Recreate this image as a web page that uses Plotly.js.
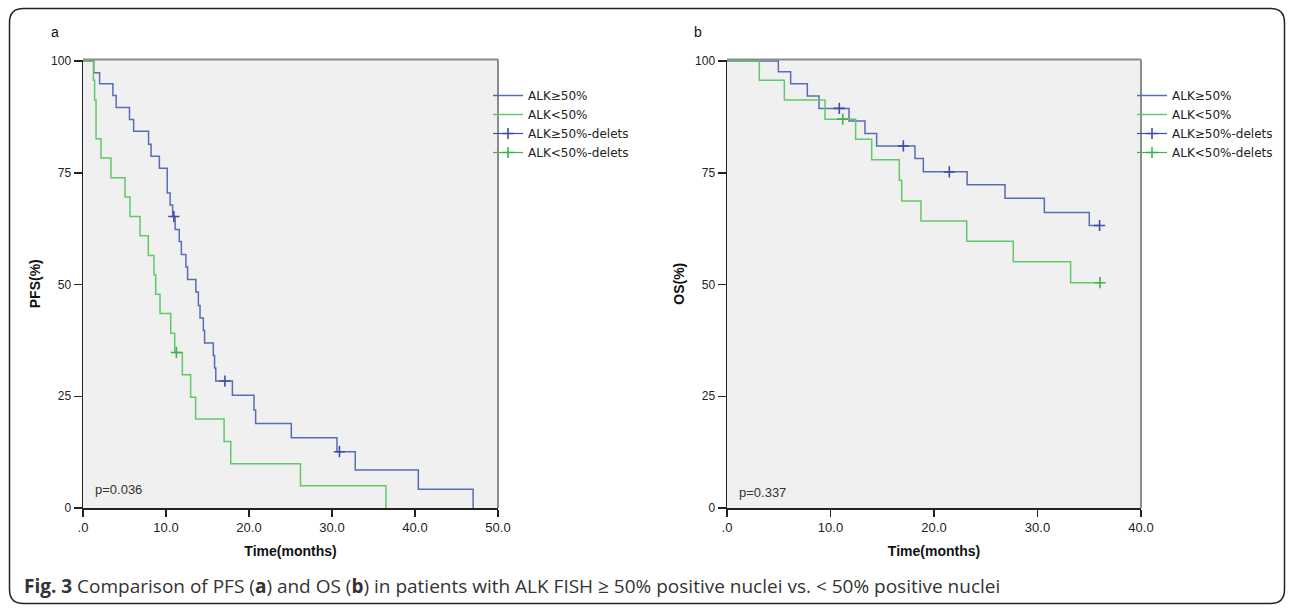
<!DOCTYPE html>
<html>
<head>
<meta charset="utf-8">
<script src="https://cdn.plot.ly/plotly-3.0.1.min.js"></script>
<style>
html,body{margin:0;padding:0;background:#fff;}
#chart{width:1292px;height:611px;}
</style>
</head>
<body>
<div id="chart"></div>
<script>
// ---------- data ----------
const seriesNames = ["ALK≥50%", "ALK<50%", "ALK≥50%-delets", "ALK<50%-delets"];

// Panel a: PFS (%) Kaplan-Meier steps (time in months, survival %)
const pfsHighTime = [0, 1.3, 2.0, 3.6, 4.0, 5.6, 6.1, 7.9, 8.2, 9.2, 10.15, 10.5, 10.8, 11.1, 11.6, 11.85, 12.4, 12.6, 13.6, 13.9, 14.1, 14.5, 14.65, 15.7, 15.85, 16.0, 18.0, 20.6, 20.8, 25.1, 30.6, 32.8, 40.4, 47.0];
const pfsHighSurv = [100, 97.4, 94.9, 92.3, 89.6, 86.9, 84.3, 81.4, 78.7, 76.0, 70.5, 67.8, 65.2, 62.3, 59.6, 56.7, 53.9, 51.1, 48.3, 45.3, 42.5, 39.7, 36.9, 34.1, 31.3, 28.4, 25.2, 21.9, 18.9, 15.7, 12.6, 8.5, 4.2, 0];
const pfsLowTime = [0, 1.25, 1.4, 1.57, 2.17, 3.37, 5.06, 5.66, 6.87, 7.87, 8.55, 8.76, 9.28, 10.57, 11.05, 11.97, 12.97, 13.57, 17.0, 17.8, 26.2, 36.5];
const pfsLowSurv = [100, 95.7, 91.3, 82.6, 78.3, 73.9, 69.6, 65.2, 60.9, 56.5, 52.2, 47.8, 43.5, 39.1, 34.8, 29.8, 24.8, 19.9, 14.9, 9.9, 5.0, 0];
const pfsHighCensTime = [10.95, 17.1, 30.9];
const pfsHighCensSurv = [65.2, 28.4, 12.6];
const pfsLowCensTime = [11.25];
const pfsLowCensSurv = [34.8];

// Panel b: OS (%)
const osHighTime = [0, 4.96, 6.15, 7.76, 8.89, 11.79, 13.33, 14.46, 18.16, 18.97, 23.2, 26.86, 30.66, 35.0, 36.0];
const osHighSurv = [100, 97.6, 94.9, 92.2, 89.4, 86.6, 83.8, 81.0, 78.2, 75.2, 72.3, 69.3, 66.1, 63.2, 63.2];
const osLowTime = [0, 3.12, 5.54, 9.47, 12.43, 13.98, 16.65, 16.88, 18.74, 23.16, 27.66, 33.2, 36.04];
const osLowSurv = [100, 95.7, 91.3, 87.0, 82.5, 77.9, 73.3, 68.7, 64.2, 59.7, 55.1, 50.4, 50.4];
const osHighCensTime = [10.85, 17.04, 21.48, 36.0];
const osHighCensSurv = [89.4, 81.0, 75.2, 63.2];
const osLowCensTime = [11.18, 36.04];
const osLowCensSurv = [87.0, 50.4];

// axes
const pfsXTickVals = [0, 10, 20, 30, 40, 50];
const pfsXTickText = [".0", "10.0", "20.0", "30.0", "40.0", "50.0"];
const osXTickVals = [0, 10, 20, 30, 40];
const osXTickText = [".0", "10.0", "20.0", "30.0", "40.0"];
const yTickVals = [0, 25, 50, 75, 100];
const yTickText = ["0", "25", "50", "75", "100"];
const pValues = ["p=0.036", "p=0.337"];
const panelLabels = ["a", "b"];
const caption = "<b>Fig. 3</b> Comparison of PFS (<b>a</b>) and OS (<b>b</b>) in patients with ALK FISH ≥ 50% positive nuclei vs. < 50% positive nuclei";

// ---------- helpers ----------
const BLUE = "#5a6cb8";
const GREEN = "#62c868";
const BLUE_C = "#3c4ea6";
const GREEN_C = "#3fb24a";

function withGaps(arr) {
  const out = [];
  arr.forEach((v, i) => { if (i) out.push(null); out.push(v); });
  return out;
}
function stepTrace(x, y, name, color, xa, ya, lg) {
  return {x: x, y: y, name: name, type: "scatter", mode: "lines",
    line: {shape: "hv", color: color, width: 1.5},
    xaxis: xa, yaxis: ya, legend: lg, hoverinfo: "skip"};
}
function censTrace(x, y, name, color, xa, ya, lg) {
  return {x: withGaps(x), y: withGaps(y), name: name, type: "scatter", mode: "lines+markers",
    connectgaps: false,
    line: {color: color, width: 1.2},
    marker: {symbol: "cross-thin", size: 8, color: color, line: {color: color, width: 1.6}},
    xaxis: xa, yaxis: ya, legend: lg, hoverinfo: "skip"};
}

const data = [
  stepTrace(pfsHighTime, pfsHighSurv, seriesNames[0], BLUE, "x", "y", "legend"),
  stepTrace(pfsLowTime, pfsLowSurv, seriesNames[1], GREEN, "x", "y", "legend"),
  censTrace(pfsHighCensTime, pfsHighCensSurv, seriesNames[2], BLUE_C, "x", "y", "legend"),
  censTrace(pfsLowCensTime, pfsLowCensSurv, seriesNames[3], GREEN_C, "x", "y", "legend"),
  stepTrace(osHighTime, osHighSurv, seriesNames[0], BLUE, "x2", "y2", "legend2"),
  stepTrace(osLowTime, osLowSurv, seriesNames[1], GREEN, "x2", "y2", "legend2"),
  censTrace(osHighCensTime, osHighCensSurv, seriesNames[2], BLUE_C, "x2", "y2", "legend2"),
  censTrace(osLowCensTime, osLowCensSurv, seriesNames[3], GREEN_C, "x2", "y2", "legend2")
];

const W = 1292, H = 611;
const px = v => v / W;
const py = v => 1 - v / H;
const xTickFont = {family: "Liberation Sans, Arial, sans-serif", size: 13, color: "#222"};
const yTickFont = {family: "Liberation Sans, Arial, sans-serif", size: 12, color: "#222"};
const titleFont = {family: "Liberation Sans, Arial, sans-serif", size: 14, color: "#111"};

function xAxis(dom, range, tv, tt, anchor) {
  return {domain: dom, range: range, anchor: anchor, tickvals: tv, ticktext: tt,
    ticks: "outside", ticklen: 7, tickwidth: 1.5, tickcolor: "#222",
    showline: true, linecolor: "#222", linewidth: 1.5, showgrid: false, zeroline: false,
    tickfont: xTickFont, fixedrange: true,
    title: {text: "<b>Time(months)</b>", font: titleFont, standoff: 12}};
}
function yAxis(title, anchor) {
  return {domain: [py(508), py(59.5)], range: [0, 100.34], anchor: anchor,
    tickvals: yTickVals, ticktext: yTickText,
    ticks: "outside", ticklen: 8, tickwidth: 1.5, tickcolor: "#222",
    showline: true, linecolor: "#222", linewidth: 1.5, showgrid: false, zeroline: false,
    tickfont: yTickFont, fixedrange: true,
    title: {text: "<b>" + title + "</b>", font: titleFont, standoff: 7}};
}

function roundRect(x0, y0, x1, y1, r) {
  const X = v => px(v), Y = v => py(v);
  return "M" + X(x0 + r) + "," + Y(y0) +
    " L" + X(x1 - r) + "," + Y(y0) +
    " Q" + X(x1) + "," + Y(y0) + " " + X(x1) + "," + Y(y0 + r) +
    " L" + X(x1) + "," + Y(y1 - r) +
    " Q" + X(x1) + "," + Y(y1) + " " + X(x1 - r) + "," + Y(y1) +
    " L" + X(x0 + r) + "," + Y(y1) +
    " Q" + X(x0) + "," + Y(y1) + " " + X(x0) + "," + Y(y1 - r) +
    " L" + X(x0) + "," + Y(y0 + r) +
    " Q" + X(x0) + "," + Y(y0) + " " + X(x0 + r) + "," + Y(y0) + " Z";
}

const frameLines = [];
[["x", "y"], ["x2", "y2"]].forEach(([xa, ya]) => {
  frameLines.push({type: "line", xref: xa + " domain", yref: ya + " domain", x0: 0, x1: 1, y0: 1, y1: 1,
    line: {color: "#8c8c8c", width: 2}});
  frameLines.push({type: "line", xref: xa + " domain", yref: ya + " domain", x0: 1, x1: 1, y0: 0, y1: 1,
    line: {color: "#8c8c8c", width: 2}});
});

const legendCommon = {xanchor: "left", yanchor: "top", bgcolor: "rgba(0,0,0,0)", borderwidth: 0,
  font: {family: "DejaVu Sans, sans-serif", size: 12, color: "#222"}, itemwidth: 30, tracegroupgap: 0};

const annFont = {family: "Liberation Sans, Arial, sans-serif", size: 14, color: "#111"};
const pFont = {family: "Liberation Sans, Arial, sans-serif", size: 13, color: "#333"};

const layout = {
  width: W, height: H,
  margin: {l: 0, r: 0, t: 0, b: 0},
  paper_bgcolor: "#ffffff",
  plot_bgcolor: "#f0f0f0",
  showlegend: true,
  xaxis: xAxis([px(83), px(498)], [0, 50], pfsXTickVals, pfsXTickText, "y"),
  yaxis: yAxis("PFS(%)", "x"),
  xaxis2: xAxis([px(727), px(1141)], [0, 40], osXTickVals, osXTickText, "y2"),
  yaxis2: yAxis("OS(%)", "x2"),
  legend: Object.assign({x: px(488), y: py(81)}, legendCommon),
  legend2: Object.assign({x: px(1132), y: py(81)}, legendCommon),
  shapes: frameLines.concat([
    {type: "path", xref: "paper", yref: "paper", path: roundRect(9.5, 8.5, 1284.5, 603.5, 14),
      line: {color: "#222", width: 1.5}, fillcolor: "rgba(0,0,0,0)"}
  ]),
  annotations: [
    {text: panelLabels[0], xref: "paper", yref: "paper", x: px(55), y: py(32), xanchor: "center", yanchor: "middle",
      showarrow: false, font: annFont},
    {text: panelLabels[1], xref: "paper", yref: "paper", x: px(698), y: py(32), xanchor: "center", yanchor: "middle",
      showarrow: false, font: annFont},
    {text: pValues[0], xref: "paper", yref: "paper", x: px(93), y: py(489), xanchor: "left", yanchor: "middle",
      showarrow: false, font: pFont},
    {text: pValues[1], xref: "paper", yref: "paper", x: px(737), y: py(492), xanchor: "left", yanchor: "middle",
      showarrow: false, font: pFont},
    {text: caption, xref: "paper", yref: "paper", x: px(22), y: py(586), xanchor: "left", yanchor: "middle",
      showarrow: false, font: {family: "Open Sans, sans-serif", size: 19, color: "#333"}}
  ]
};

Plotly.newPlot("chart", data, layout, {displayModeBar: false, staticPlot: true});
</script>
</body>
</html>
